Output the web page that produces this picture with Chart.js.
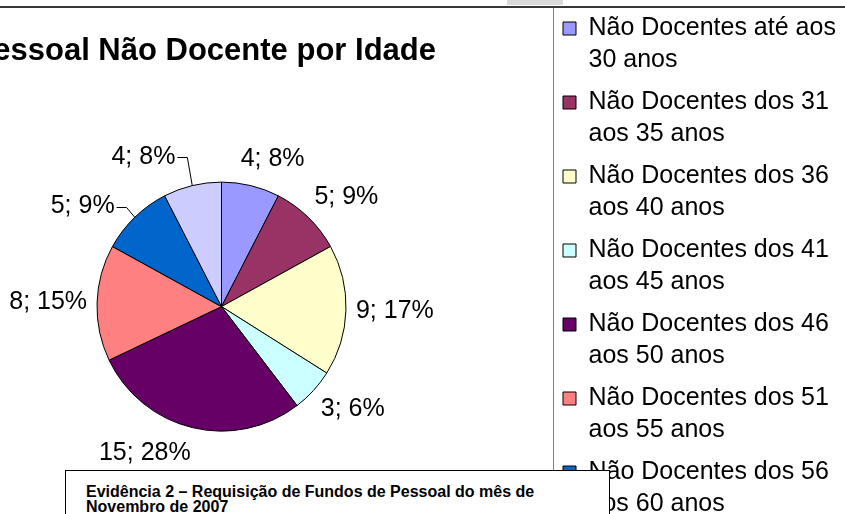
<!DOCTYPE html>
<html lang="pt">
<head>
<meta charset="utf-8">
<title>Pessoal Não Docente por Idade</title>
<script src="https://cdn.jsdelivr.net/npm/chart.js@4.4.1/dist/chart.umd.min.js"></script>
<style>
  html, body { margin: 0; padding: 0; background: #fff; overflow: hidden; }
  body { width: 845px; height: 514px; position: relative; }
  #chartBox { position: absolute; left: -110px; top: 0; width: 958px; height: 543px; }
  #handle { position: absolute; left: 507px; top: 0; width: 56px; height: 5px; background: #dadada; }
  #note {
    position: absolute; left: 65px; top: 470px; width: 545px; height: 80px;
    box-sizing: border-box; border: 1px solid #000; background: #fff;
    padding: 13px 0 0 20px; color: #000;
    font: bold 16px/15px "Liberation Sans", Arial, sans-serif;
  }
</style>
</head>
<body>
<div id="chartBox"><canvas id="idadeChart"></canvas></div>
<div id="handle"></div>
<div id="note">Evidência 2 – Requisição de Fundos de Pessoal do mês de<br>Novembro de 2007</div>
<script>
const categories = [
  "Não Docentes até aos 30 anos",
  "Não Docentes dos 31 aos 35 anos",
  "Não Docentes dos 36 aos 40 anos",
  "Não Docentes dos 41 aos 45 anos",
  "Não Docentes dos 46 aos 50 anos",
  "Não Docentes dos 51 aos 55 anos",
  "Não Docentes dos 56 aos 60 anos",
  "Não Docentes com mais de 60 anos"
];
const values = [4, 5, 9, 3, 15, 8, 5, 4];
const colors = ["#9999FF", "#993366", "#FFFFCC", "#CCFFFF", "#660066", "#FF8080", "#0066CC", "#CCCCFF"];

const family = "'Liberation Sans', Arial, sans-serif";
const ctx = document.getElementById("idadeChart");

// split long legend names in two lines, like the excel legend does
function wrap(text, maxWidth, font) {
  const c = document.createElement("canvas").getContext("2d");
  c.font = font;
  const lines = [];
  let line = "";
  text.split(" ").forEach(function (word) {
    const test = line ? line + " " + word : word;
    if (line && c.measureText(test).width > maxWidth) {
      lines.push(line);
      line = word;
    } else {
      line = test;
    }
  });
  lines.push(line);
  return lines;
}

const legendLabels = categories.map(function (c) {
  return wrap(c, 255, "25px " + family);
});

// "4; 8%" labels outside the slices
const sliceLabels = {
  id: "sliceLabels",
  afterDatasetsDraw(chart, args, opts) {
    const c = chart.ctx;
    const meta = chart.getDatasetMeta(0);
    const total = values.reduce(function (a, b) { return a + b; }, 0);
    const k = function (v) { return Math.max(-1, Math.min(1, v * 1.4)); };
    c.save();
    c.font = opts.size + "px " + family;
    c.fillStyle = "#000";
    c.strokeStyle = "#000";
    c.lineWidth = 1;
    c.textAlign = "center";
    c.textBaseline = "middle";
    meta.data.forEach(function (arc, i) {
      const p = arc.getProps(["x", "y", "startAngle", "endAngle", "outerRadius"], true);
      const mid = (p.startAngle + p.endAngle) / 2;
      const ux = Math.cos(mid);
      const uy = Math.sin(mid);
      const text = values[i] + "; " + Math.round(values[i] / total * 100) + "%";
      const w = c.measureText(text).width;
      const h = opts.size;
      let cx = p.x + ux * (p.outerRadius + opts.gap) + k(ux) * w / 2;
      let cy = p.y + uy * (p.outerRadius + opts.gap) + k(uy) * h / 2;
      const s = opts.shift[i];
      if (s) {
        cx += s[0];
        cy += s[1];
      }
      if (opts.leaders.indexOf(i) >= 0) {
        const sx = cx + w / 2 + 2;
        c.beginPath();
        c.moveTo(sx, Math.round(cy) + 0.5);
        c.lineTo(sx + 10, Math.round(cy) + 0.5);
        c.lineTo(p.x + ux * p.outerRadius, p.y + uy * p.outerRadius);
        c.stroke();
      }
      c.fillText(text, cx, cy);
    });
    c.restore();
  }
};

// top border of the chart and left border of the legend
const frame = {
  id: "frame",
  beforeDraw(chart) {
    const c = chart.ctx;
    const lg = chart.legend;
    c.save();
    c.strokeStyle = "#7f7f7f";
    c.lineWidth = 1;
    c.beginPath();
    c.moveTo(lg.left + 0.5, 7);
    c.lineTo(lg.left + 0.5, chart.height);
    c.stroke();
    c.strokeStyle = "#383838";
    c.lineWidth = 2;
    c.beginPath();
    c.moveTo(0, 7);
    c.lineTo(chart.width, 7);
    c.stroke();
    c.restore();
  }
};

new Chart(ctx, {
  type: "pie",
  data: {
    labels: legendLabels,
    datasets: [
      {
        data: values,
        backgroundColor: colors,
        borderColor: "#000",
        borderWidth: 1,
        radius: 124.5,
        hoverOffset: 0,
      },
    ],
  },
  options: {
    responsive: true,
    maintainAspectRatio: false,
    animation: false,
    layout: { padding: { top: 6 } },
    plugins: {
      title: {
        display: true,
        text: "Pessoal Não Docente por Idade    ",
        fullSize: false,
        color: "#000",
        font: { family: family, size: 31, weight: "bold", lineHeight: 1.2 },
        padding: { top: 27, bottom: 0 },
      },
      legend: {
        position: "right",
        align: "start",
        maxWidth: 295,
        labels: {
          color: "#000",
          font: { family: family, size: 25, lineHeight: 1.28 },
          boxWidth: 13,
          boxHeight: 13,
          padding: 10,
        },
      },
      tooltip: { enabled: false },
      sliceLabels: {
        size: 25,
        gap: 10,
        shift: { 0: [9, -4], 4: [-30, 3], 6: [-14, 9], 7: [-36, -6] },
        leaders: [6, 7],
      },
    },
  },
  plugins: [sliceLabels, frame],
});
</script>
</body>
</html>
